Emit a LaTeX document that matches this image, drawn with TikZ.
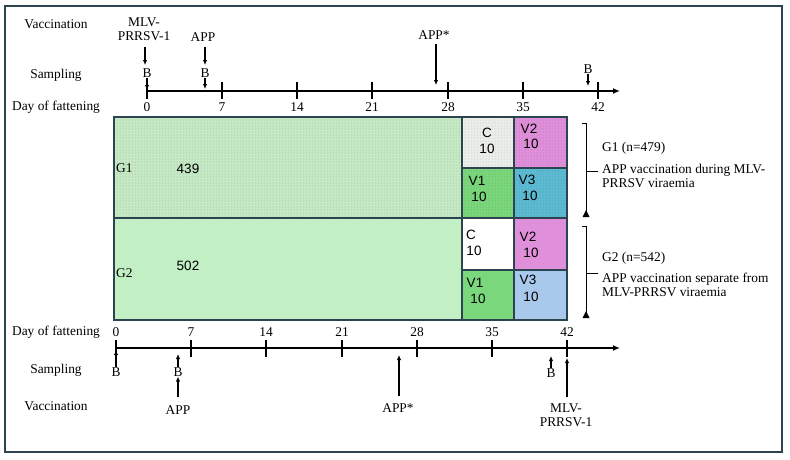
\documentclass[tikz,border=0pt]{standalone}
\usepackage{fontspec}
\setmainfont{Liberation Serif}
\newfontfamily\arialf{Liberation Sans}
\usetikzlibrary{arrows.meta,patterns}
\definecolor{framec}{HTML}{2B4450}
\definecolor{gone}{HTML}{C6E9C6}
\definecolor{gtwo}{HTML}{C2F0C4}
\definecolor{cgray}{HTML}{ECEEEA}
\definecolor{vone}{HTML}{7BD77B}
\definecolor{vtwo}{HTML}{E090DA}
\definecolor{vthreeA}{HTML}{5CBBD2}
\definecolor{vthreeB}{HTML}{A8C8EC}
\begin{document}
\begin{tikzpicture}[x=1pt,y=-1pt,
  lbl/.style={font=\fontsize{13.4}{15}\selectfont, inner sep=0pt},
  boxt/.style={font=\arialf\fontsize{13.5}{15}\selectfont, inner sep=0pt},
  arr/.style={-{Latex[length=5pt,width=4.5pt]}, line width=1.2pt},
  axisl/.style={line width=1.6pt, -{Latex[length=7pt,width=6pt]}},
  tickl/.style={line width=1.6pt},
  cell/.style={draw=framec, line width=1.8pt},
  dotted fill/.style={fill=#1, postaction={pattern=dots, pattern color=#1!75!black}},
  brk/.style={line width=1pt}
]
\useasboundingbox (0,0) rectangle (790,459);
\draw[framec, line width=2pt] (5,6) rectangle (782,452);

% ---------- top timeline ----------
\node[lbl] (vacT) at (56,24) {Vaccination};
\node[lbl] (samT) at (56,75) {Sampling};
\node[lbl] (dayT) at (56,107) {Day of fattening};
\coordinate (tA0) at (147,91);
\coordinate (tAend) at (620,91);
\draw[axisl] (tA0) -- (tAend);
\foreach \d/\x in {0/147,7/222,14/297,21/372,28/448,35/523,42/598}{
  \draw[tickl] (\x,82) -- (\x,99);
  \node[lbl] (tt\d) at (\x,107) {\d};
}
\node[lbl, align=center] (mlvT) at (144,29) {MLV-\\[-1pt]PRRSV-1};
\draw[arr] (145,47) -- (145,65);
\node[lbl] (bT0) at (147,73) {B};
\draw[arr] (bT0.south) -- (147,90);
\node[lbl] (appT) at (203,37) {APP};
\draw[arr] (205,47) -- (205,65);
\node[lbl] (bT1) at (205,73) {B};
\draw[arr] (bT1.south) -- (205,89);
\node[lbl] (appsT) at (434,35) {APP*};
\draw[arr] (appsT.south -| 436,0) ++(0,4) -- (436,85);
\node[lbl] (bT2) at (588,69) {B};
\draw[arr] (bT2.south) -- (588,86);

% ---------- boxes ----------
\fill[dotted fill=gone] (114,117) rectangle (462,218);
\fill[gtwo] (114,218) rectangle (462,320);
\fill[dotted fill=cgray] (462,117) rectangle (514,168);
\fill[dotted fill=vtwo] (514,117) rectangle (567,168);
\fill[dotted fill=vone] (462,168) rectangle (514,218);
\fill[dotted fill=vthreeA] (514,168) rectangle (567,218);
\fill[white] (462,218) rectangle (514,270);
\fill[vtwo] (514,218) rectangle (567,270);
\fill[vone] (462,270) rectangle (514,320);
\fill[vthreeB] (514,270) rectangle (567,320);
\draw[cell] (114,117) rectangle (567,320);
\draw[cell] (114,218) -- (567,218);
\draw[cell] (462,117) -- (462,320);
\draw[cell] (514,117) -- (514,320);
\draw[cell] (462,168) -- (567,168);
\draw[cell] (462,270) -- (567,270);

\node[lbl, anchor=west] (g1) at (116,168) {G1};
\node[boxt] (n439) at (188,169) {439};
\node[lbl, anchor=west] (g2) at (116,273) {G2};
\node[boxt] (n502) at (188,266) {502};

\node[boxt] (c1) at (487,133) {C};
\node[boxt] (c1n) at (487,149) {10};
\node[boxt] (v21) at (529,129) {V2};
\node[boxt] (v21n) at (531,144) {10};
\node[boxt] (v11) at (477,181) {V1};
\node[boxt] (v11n) at (479,197) {10};
\node[boxt] (v31) at (527,180) {V3};
\node[boxt] (v31n) at (530,196) {10};

\node[boxt] (c2) at (471,235) {C};
\node[boxt] (c2n) at (474,251) {10};
\node[boxt] (v22) at (528,237) {V2};
\node[boxt] (v22n) at (531,253) {10};
\node[boxt] (v12) at (475,283) {V1};
\node[boxt] (v12n) at (478,299) {10};
\node[boxt] (v32) at (528,280) {V3};
\node[boxt] (v32n) at (531,297) {10};

% ---------- brackets ----------
\draw[brk] (582,123) -- (586,123) -- (586,213);
\draw[brk] (586,171) -- (598,171);
\fill (582.5,217) -- (589.5,217) -- (586,210) -- cycle;
\draw[brk] (582,226) -- (586,226) -- (586,314);
\draw[brk] (586,273) -- (598,273);
\fill (582.5,318) -- (589.5,318) -- (586,311) -- cycle;

\node[lbl, anchor=west] (g1n) at (602,148) {G1 (n=479)};
\node[lbl, anchor=north west, align=left] (g1d) at (602,164) {APP vaccination during MLV-\\[-1.5pt]PRRSV viraemia};
\node[lbl, anchor=west] (g2n) at (602,258) {G2 (n=542)};
\node[lbl, anchor=north west, align=left] (g2d) at (602,273) {APP vaccination separate from\\[-1.5pt]MLV-PRRSV viraemia};

% ---------- bottom timeline ----------
\node[lbl] (dayB) at (56,332) {Day of fattening};
\node[lbl] (samB) at (56,370) {Sampling};
\node[lbl] (vacB) at (56,406) {Vaccination};
\coordinate (bA0) at (116,348);
\coordinate (bAend) at (620,348);
\draw[axisl] (bA0) -- (bAend);
\foreach \d/\x in {0/116,7/191,14/266,21/342,28/417,35/492,42/567}{
  \draw[tickl] (\x,340) -- (\x,357);
  \node[lbl] (bt\d) at (\x,332) {\d};
}
\node[lbl] (bB0) at (116,372) {B};
\draw[arr] (bB0.north) -- (116,350);
\node[lbl] (bB1) at (178,372) {B};
\draw[arr] (bB1.north) -- (178,354);
\node[lbl] (appB) at (178,410) {APP};
\draw[arr] (178,397) -- (bB1.south);
\node[lbl] (appsB) at (398,408) {APP*};
\draw[arr] (399,396) -- (399,355);
\node[lbl] (bB2) at (551,373) {B};
\draw[arr] (bB2.north) -- (551,356);
\node[lbl, align=center] (mlvB) at (566,415) {MLV-\\[-1pt]PRRSV-1};
\draw[arr] (567,397) -- (567,358);
\end{tikzpicture}
\end{document}
